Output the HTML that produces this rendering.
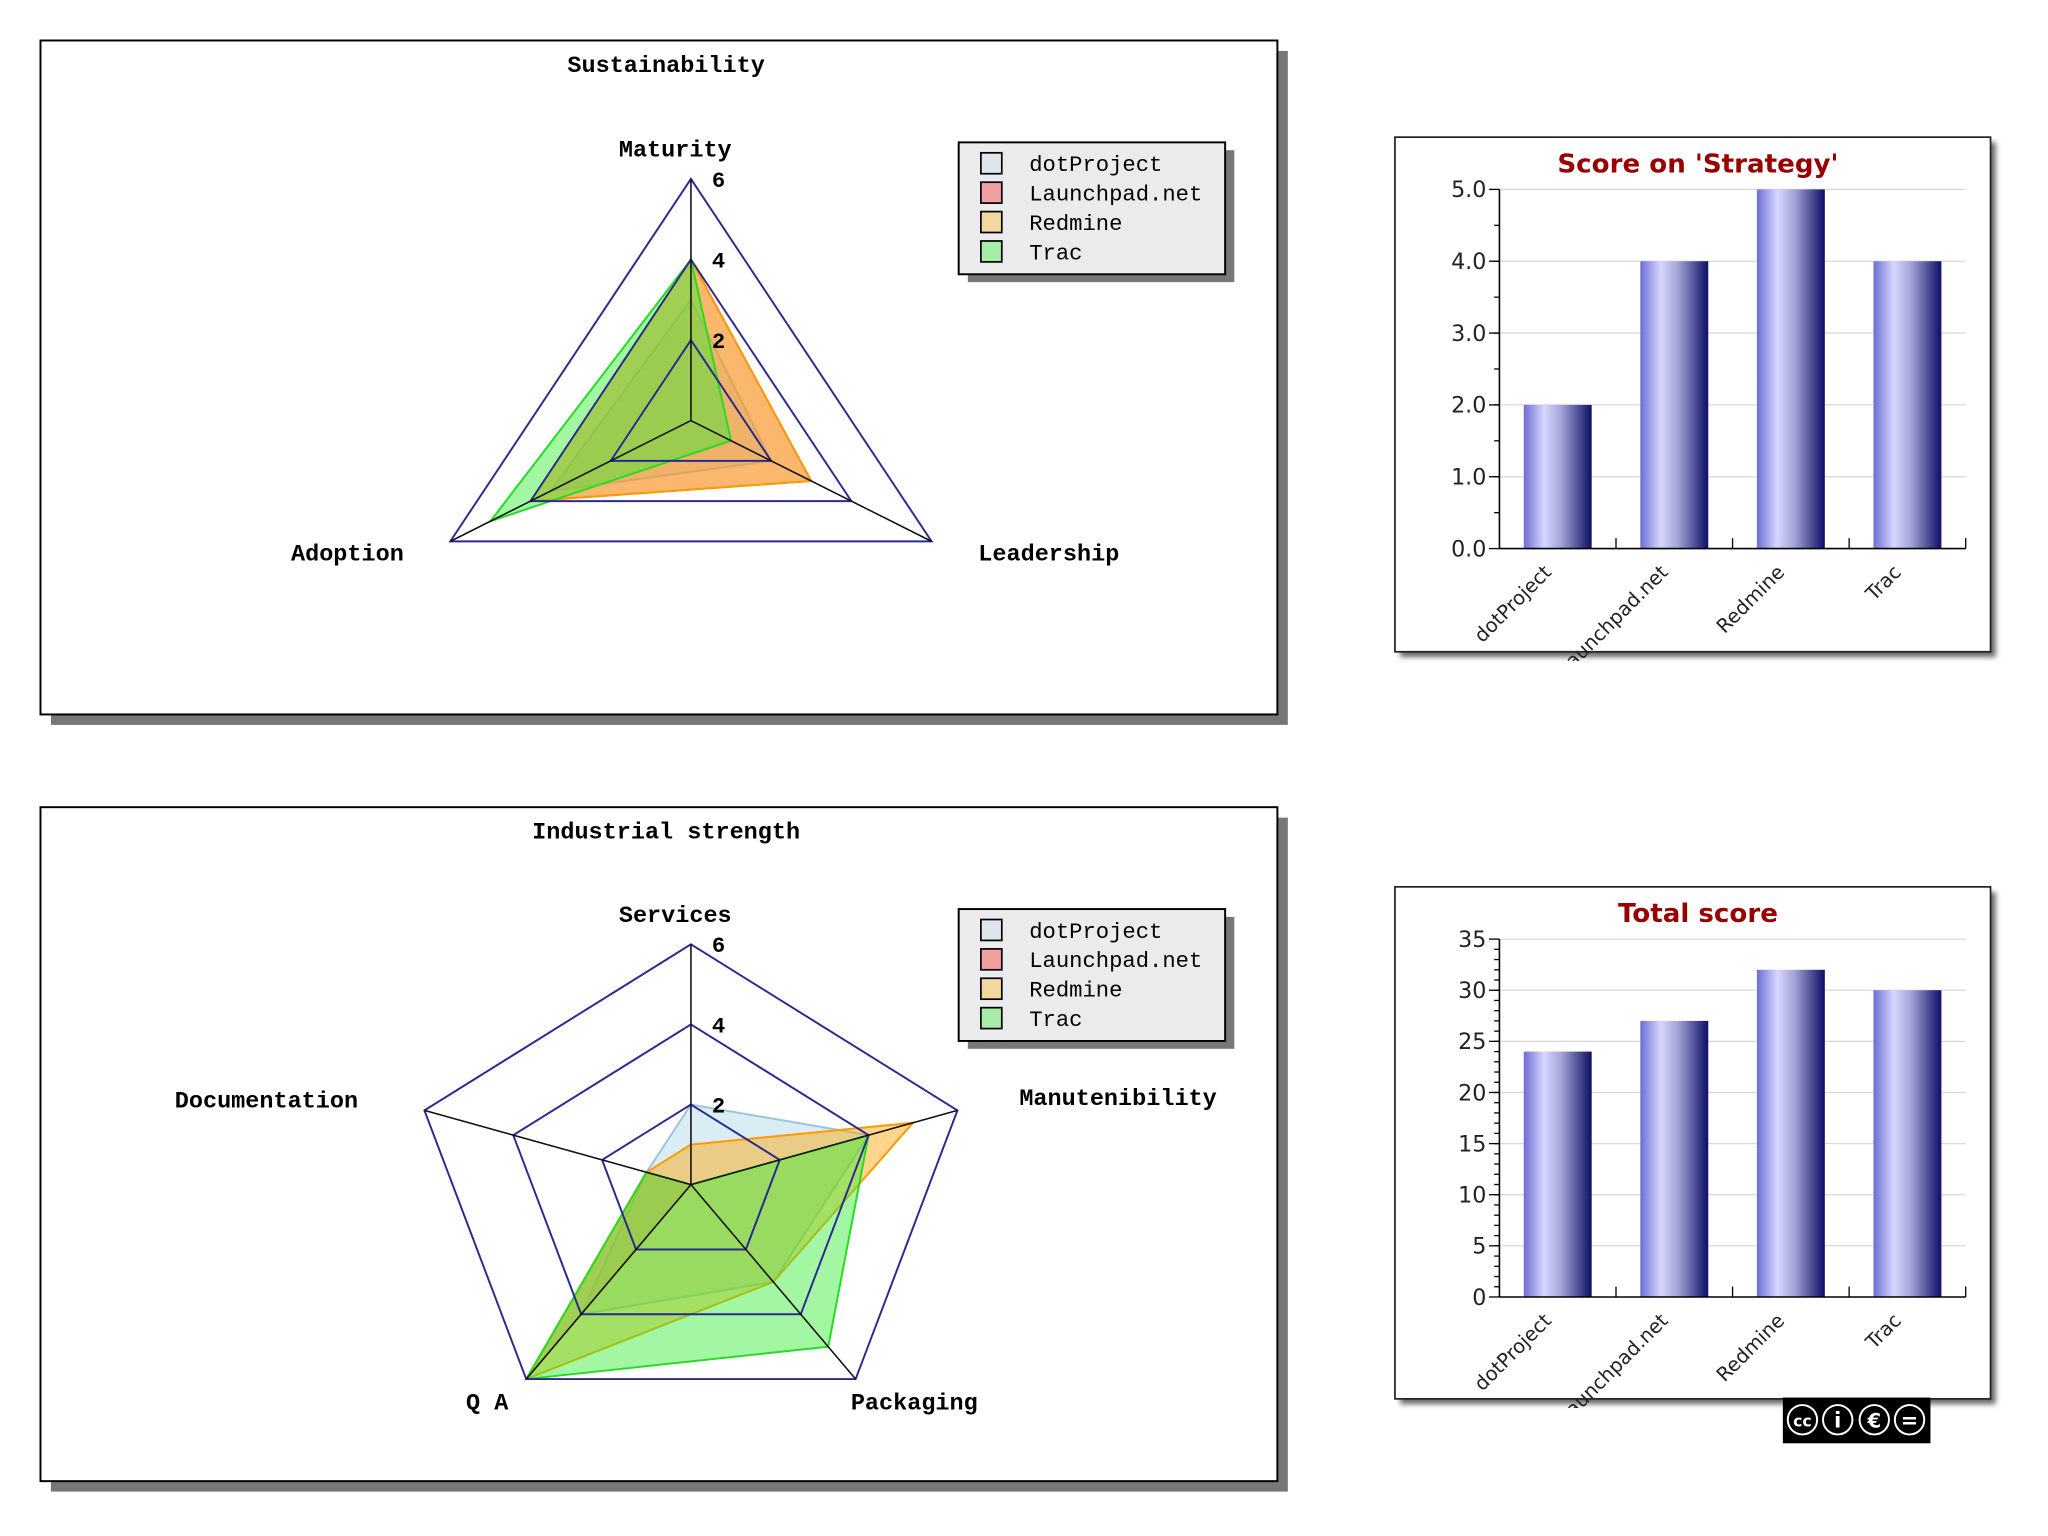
<!DOCTYPE html>
<html><head><meta charset="utf-8"><style>
html,body{margin:0;padding:0;background:#fff;}
svg{display:block;}
.mono{font-family:"Liberation Mono","DejaVu Sans Mono",monospace;}
.sans{font-family:"DejaVu Sans","Liberation Sans",sans-serif;}
</style></head><body>
<svg id="root" width="2048" height="1536" viewBox="0 0 1568 1176" xmlns="http://www.w3.org/2000/svg">
<defs>
<linearGradient id="barg" x1="0" x2="1" y1="0" y2="0">
<stop offset="0" stop-color="#6d6dd4"/><stop offset="0.3" stop-color="#d6d6ff"/><stop offset="0.55" stop-color="#a4a4d8"/><stop offset="1" stop-color="#0e0e66"/>
</linearGradient>
<filter id="blur"><feGaussianBlur stdDeviation="2"/></filter>
<clipPath id="clipTop"><rect x="1068" y="105" width="456" height="401"/></clipPath>
<clipPath id="clipBot"><rect x="1068" y="679" width="456" height="399"/></clipPath>
</defs>
<g id="radar1"></g>
<g id="radar2"></g>
<g id="bar1"></g>
<g id="bar2"></g>
<g>
<rect x="1365" y="1070" width="113" height="35" fill="#000"/>
<circle cx="1380" cy="1087" r="13" fill="#fff" stroke="#000" stroke-width="2"/><circle cx="1380" cy="1087" r="10.5" fill="#000"/>
<text x="1380" y="1092" text-anchor="middle" fill="#fff" font-size="12" font-weight="bold" class="sans">cc</text>
<circle cx="1407" cy="1087" r="13" fill="#fff" stroke="#000" stroke-width="2"/><circle cx="1407" cy="1087" r="10.5" fill="#000"/>
<text x="1407" y="1093" text-anchor="middle" fill="#fff" font-size="16" font-weight="bold" class="sans">i</text>
<circle cx="1435" cy="1087" r="13" fill="#fff" stroke="#000" stroke-width="2"/><circle cx="1435" cy="1087" r="10.5" fill="#000"/>
<text x="1435" y="1093" text-anchor="middle" fill="#fff" font-size="15" font-weight="bold" class="sans">€</text>
<circle cx="1462" cy="1087" r="13" fill="#fff" stroke="#000" stroke-width="2"/><circle cx="1462" cy="1087" r="10.5" fill="#000"/>
<text x="1462" y="1093" text-anchor="middle" fill="#fff" font-size="16" font-weight="bold" class="sans">=</text>
</g>
</svg>
<script>
var seriesNames = ["dotProject","Launchpad.net","Redmine","Trac"];
var sustAxes = ["Maturity","Leadership","Adoption"];
var sustDotProject = [3, 2, 3.5];
var sustLaunchpad = [4, 3, 4];
var sustRedmine = [4, 3, 4];
var sustTrac = [4, 1, 5];
var indAxes = ["Services","Manutenibility","Packaging","Q A","Documentation"];
var indDotProject = [2, 4, 3, 4, 1];
var indLaunchpad = [0, 0, 0, 6, 1];
var indRedmine = [1, 5, 3, 6, 1];
var indTrac = [0, 4, 5, 6, 1];
var radarTicks = [2, 4, 6];
var barCategories = ["dotProject","Launchpad.net","Redmine","Trac"];
var strategyValues = [2, 4, 5, 4];
var strategyTicks = ["0.0","1.0","2.0","3.0","4.0","5.0"];
var totalValues = [24, 27, 32, 30];
var totalTicks = ["0","5","10","15","20","25","30","35"];

var NS = "http://www.w3.org/2000/svg";
function mk(parent, tag, attrs, text) {
  var e = document.createElementNS(NS, tag);
  for (var k in attrs) e.setAttribute(k, attrs[k]);
  if (text !== undefined) e.textContent = text;
  parent.appendChild(e);
  return e;
}
var fills = ["#add8e6","#f08080","#ffa500","#33ee33"];
var strokes = ["#9cc4da","#ee7070","#ff9900","#22dd22"];
var swatch = ["#dde6ea","#f0a0a0","#f2d8a0","#a8eca8"];

function radar(g, title, frameY, cx, cy, R, xs, axes, series, labelPos) {
  var sh = mk(g, "rect", {x:39, y:frameY+8, width:947, height:516, fill:"#777"});
  
  
  var fr = mk(g, "rect", {x:31, y:frameY, width:947, height:516, fill:"#fff", stroke:"#000", "stroke-width":1.5});
  
  
  var t = mk(g, "text", {x:510, y:frameY+24, "text-anchor":"middle", "font-size":18, "font-weight":"bold", class:"mono"}, title);
  
  
  var n = axes.length;
  function pt(i, v) {
    var a = (90 - i * 360 / n) * Math.PI / 180;
    var r = R * v / 6;
    return [cx + r * Math.cos(a) * xs, cy - r * Math.sin(a)];
  }
  for (var s = 0; s < series.length; s++) {
    var pts = series[s].map(function (v, i) { return pt(i, v).join(","); }).join(" ");
    var p = mk(g, "polygon", {points:pts, fill:fills[s], "fill-opacity":0.45, stroke:strokes[s], "stroke-width":1.5});
    
    
  }
  radarTicks.forEach(function (tv) {
    var pts = axes.map(function (a, i) { return pt(i, tv).join(","); }).join(" ");
    var ring = mk(g, "polygon", {points:pts, fill:"none", stroke:"#2a2a90", "stroke-width":1.5});
    
    
    var top = pt(0, tv);
    var tl = mk(g, "text", {x:top[0]+16, y:top[1]+6, "font-size":17, "font-weight":"bold", class:"mono"}, String(tv));
    
    
  });
  axes.forEach(function (a, i) {
    var e = pt(i, 6);
    var sp = mk(g, "line", {x1:cx, y1:cy, x2:e[0], y2:e[1], stroke:"#111", "stroke-width":1.2});
    
    
    var lp = labelPos[i];
    var al = mk(g, "text", {x:lp[0], y:lp[1], "text-anchor":"middle", "font-size":18, "font-weight":"bold", class:"mono"}, a);
    
    
  });
  var ly = frameY + 78;
  var lsh = mk(g, "rect", {x:741, y:ly+6, width:204, height:101, fill:"#777"});
  
  
  var lb = mk(g, "rect", {x:734, y:ly, width:204, height:101, fill:"#ebebee", stroke:"#000", "stroke-width":1.5});
  
  
  seriesNames.forEach(function (nm, s) {
    var yy = ly + 16 + s * 22.5;
    var sw = mk(g, "rect", {x:751, y:yy-8, width:16, height:16, fill:swatch[s], stroke:"#000", "stroke-width":1.3});
    
    
    var lt = mk(g, "text", {x:788, y:yy+6, "font-size":17, class:"mono"}, nm);
    
    
  });
}

radar(document.getElementById("radar1"), "Sustainability", 31, 529, 322, 185, 1.15, sustAxes,
  [sustDotProject, sustLaunchpad, sustRedmine, sustTrac], [[517,120],[803,429],[266,429]]);
radar(document.getElementById("radar2"), "Industrial strength", 618, 529, 907, 184, 1.166, indAxes,
  [indDotProject, indLaunchpad, indRedmine, indTrac], [[517,706],[856,846],[700,1079],[373,1079],[204,848]]);

function barChart(g, title, fy, fh, y0, ytop, vmax, ticks, minorStep, values, clipId) {
  var sh = mk(g, "rect", {x:1072, y:fy+4, width:456, height:fh, fill:"#666", filter:"url(#blur)"});
  
  
  var fr = mk(g, "rect", {x:1068, y:fy, width:456, height:fh, fill:"#fff", stroke:"#222", "stroke-width":1.3});
  
  
  var t = mk(g, "text", {x:1300, y:fy+27, "text-anchor":"middle", "font-size":20, "font-weight":"bold", fill:"#990000", class:"sans"}, title);
  
  
  var x0 = 1148, x1 = 1505;
  function ys(v) { return y0 - (y0 - ytop) * v / vmax; }
  var tstep = vmax / (ticks.length - 1);
  ticks.forEach(function (lab, i) {
    var v = i * tstep, y = ys(v);
    if (i > 0) {
      var gl = mk(g, "line", {x1:x0, y1:y, x2:x1, y2:y, stroke:"#d8d8d8", "stroke-width":1});
      
      
    }
    var tk = mk(g, "line", {x1:x0-8, y1:y, x2:x0, y2:y, stroke:"#000", "stroke-width":1});
    
    
    var tl = mk(g, "text", {x:x0-10, y:y+6, "text-anchor":"end", "font-size":17, fill:"#222", class:"sans"}, lab);
    
    
  });
  for (var m = minorStep; m < vmax; m += minorStep) {
    var mt = mk(g, "line", {x1:x0-4, y1:ys(m), x2:x0, y2:ys(m), stroke:"#000", "stroke-width":1});
    
    
  }
  var slot = (x1 - x0) / values.length;
  var lg = mk(g, "g", {"clip-path":"url(#" + clipId + ")"});
  
  
  values.forEach(function (v, i) {
    var cx = x0 + slot * (i + 0.5);
    var b = mk(g, "rect", {x:cx-26, y:ys(v), width:52, height:y0-ys(v), fill:"url(#barg)"});
    
    
    var lbl = mk(lg, "text", {x:cx-4, y:y0+19, "text-anchor":"end", "font-size":15, fill:"#222", class:"sans",
      transform:"rotate(-45 " + (cx-4) + " " + (y0+19) + ")"}, barCategories[i]);
    
    
    if (i > 0) {
      var xt = mk(g, "line", {x1:x0+slot*i, y1:y0-8, x2:x0+slot*i, y2:y0, stroke:"#000", "stroke-width":1});
      
      
    }
  });
  var ya = mk(g, "line", {x1:x0, y1:ytop, x2:x0, y2:y0, stroke:"#000", "stroke-width":1.2});
  
  
  var xa = mk(g, "line", {x1:x0, y1:y0, x2:x1, y2:y0, stroke:"#000", "stroke-width":1.2});
  
  
  var xe = mk(g, "line", {x1:x1, y1:y0-8, x2:x1, y2:y0, stroke:"#000", "stroke-width":1});
  
  
}
barChart(document.getElementById("bar1"), "Score on 'Strategy'", 105, 394, 420, 145, 5, strategyTicks, 0.5, strategyValues, "clipTop");
barChart(document.getElementById("bar2"), "Total score", 679, 392, 993, 719, 35, totalTicks, 1, totalValues, "clipBot");
</script>
</body></html>
